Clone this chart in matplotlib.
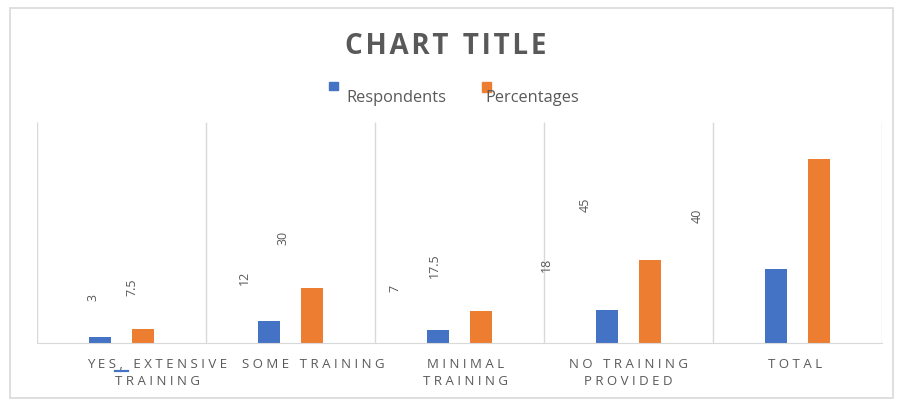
import matplotlib
matplotlib.use("Agg")
import matplotlib.pyplot as plt
from matplotlib.patches import Rectangle
from matplotlib.lines import Line2D
from matplotlib.transforms import ScaledTranslation
import numpy as np

categories = ["YES, EXTENSIVE\nTRAINING", "SOME TRAINING", "MINIMAL\nTRAINING",
              "NO TRAINING\nPROVIDED", "TOTAL"]
respondents = [3, 12, 7, 18, 40]
percentages = [7.5, 30, 17.5, 45, 100]

BLUE = "#4472C4"
ORANGE = "#ED7D31"
GREY = "#595959"


def spaced(s, sep=" "):
    # widen the letter spacing of the caps labels
    return "\n".join(sep.join(line) for line in s.split("\n"))


fig = plt.figure(figsize=(8.98, 4.01), dpi=100)
fig.patch.set_facecolor("white")

# chart frame
fig.patches.append(Rectangle((10 / 898, 1 - 398 / 401), 883 / 898, 390 / 401,
                             transform=fig.transFigure, fill=False,
                             edgecolor="#d9d9d9", linewidth=1.2))

ax = fig.add_axes([37 / 898, 1 - 343 / 401, 845 / 898, 221 / 401])
x = np.arange(len(categories))
w = 0.13
ax.bar(x - w, respondents, w, color=BLUE)
ax.bar(x + w, percentages, w, color=ORANGE)

ax.set_xlim(-0.5, len(categories) - 0.5)
ax.set_ylim(0, 120)
for s in ["top", "right", "left"]:
    ax.spines[s].set_visible(False)
ax.spines["bottom"].set_color("#d9d9d9")
ax.vlines(np.arange(len(categories) + 1) - 0.5, 0, 120, color="#d9d9d9", lw=1)
ax.set_yticks([])
ax.set_xticks(x)
ax.set_xticklabels([spaced(c) for c in categories], color=GREY, fontsize=9.5,
                   family="Open Sans", linespacing=1.4)
ax.tick_params(axis="x", length=0, pad=11)

# the wrapped labels sit a little right of their slots
nudge_px = [36, 23, 6, 0, -2]
for lab, dx in zip(ax.get_xticklabels(), nudge_px):
    lab.set_transform(lab.get_transform() + ScaledTranslation(dx / 100, 0, fig.dpi_scale_trans))

# small blue underline mark under "S," in the first label
fig.lines.append(Line2D([115 / 898, 128 / 898], [1 - 371 / 401, 1 - 371 / 401],
                        transform=fig.transFigure, color=BLUE, lw=1.6))

# rotated value labels, laid out on a slightly narrower grid than the bars
for off, vals in [(-w, respondents), (w, percentages)]:
    for xi, v in zip(x, vals):
        lx = -0.5 + 0.894 * (xi + off + 0.5)
        ly = 1.2 * v + 21
        ax.text(lx, ly, f"{v:g}", rotation=90, ha="center", va="center",
                color=GREY, fontsize=9, family="Open Sans", clip_on=True)

title = "  ".join("\u200a".join(word) for word in ["CHART", "TITLE"])
fig.text(446 / 898, 1 - 47 / 401, title, ha="center", va="center",
         fontsize=20, fontweight="bold", color=GREY, family="Open Sans")

# legend
fig.patches.append(Rectangle((329 / 898, 1 - 90 / 401), 9 / 898, 8 / 401,
                             transform=fig.transFigure, color=BLUE))
fig.text(346 / 898, 1 - 98 / 401, "Respondents", ha="left", va="center",
         fontsize=11.8, color=GREY, family="Open Sans")
fig.patches.append(Rectangle((482 / 898, 1 - 92 / 401), 9 / 898, 10 / 401,
                             transform=fig.transFigure, color=ORANGE))
fig.text(485 / 898, 1 - 98 / 401, "Percentages", ha="left", va="center",
         fontsize=11.8, color=GREY, family="Open Sans")

fig.savefig("out.png", dpi=100)
